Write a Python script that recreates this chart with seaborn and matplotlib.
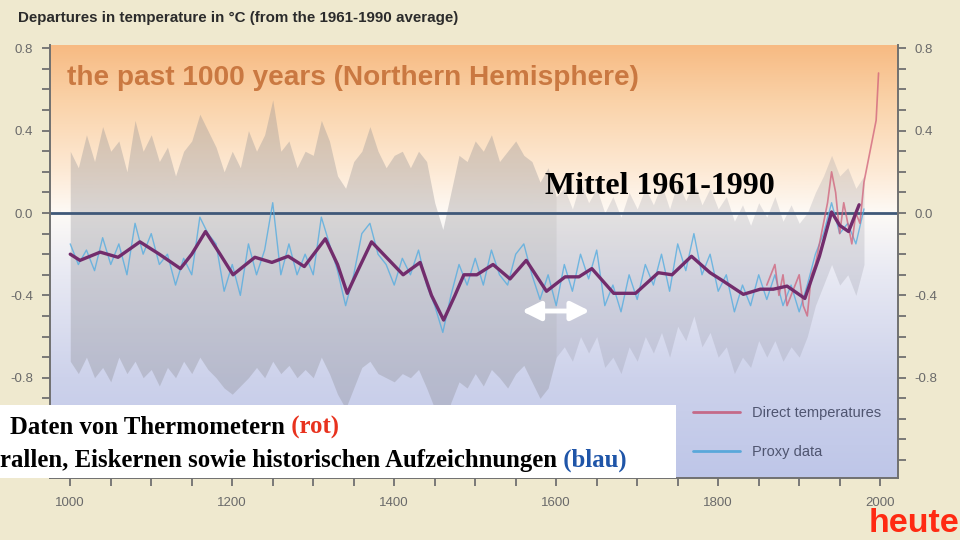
import numpy as np
import matplotlib
matplotlib.use("Agg")
import matplotlib.pyplot as plt
import seaborn as sns
from matplotlib.patches import Rectangle
from matplotlib.lines import Line2D
from matplotlib.ticker import MultipleLocator, FormatStrFormatter

# --- werte ---
# geglaettete kurve (lila)
smooth_years = [1000, 1012, 1037, 1059, 1086, 1110, 1136, 1150, 1167, 1185, 1201, 1228, 1249,
                1269, 1289, 1315, 1330, 1342, 1355, 1372, 1411, 1432, 1446, 1461, 1475, 1486,
                1502, 1522, 1543, 1563, 1588, 1611, 1628, 1644, 1671, 1698, 1726, 1743, 1767,
                1790, 1806, 1831, 1852, 1868, 1885, 1907, 1925, 1940, 1950, 1961, 1974]
smooth_vals = [-0.20, -0.23, -0.19, -0.215, -0.14, -0.20, -0.27, -0.20, -0.09, -0.20, -0.30,
               -0.215, -0.24, -0.21, -0.26, -0.125, -0.25, -0.39, -0.28, -0.14, -0.30, -0.24,
               -0.40, -0.52, -0.40, -0.30, -0.30, -0.25, -0.32, -0.23, -0.38, -0.31, -0.31,
               -0.27, -0.39, -0.39, -0.29, -0.30, -0.21, -0.29, -0.33, -0.395, -0.37, -0.37,
               -0.355, -0.415, -0.21, 0.005, -0.06, -0.09, 0.04]

# proxy-daten (blau), dekadenwerte
proxy_years = list(range(1000, 1990, 10))
proxy_vals = [-0.15, -0.25, -0.18, -0.28, -0.12, -0.25, -0.15, -0.30, -0.05, -0.20,
              -0.10, -0.25, -0.20, -0.35, -0.22, -0.30, -0.02, -0.10, -0.15, -0.38,
              -0.25, -0.40, -0.15, -0.30, -0.18, 0.05, -0.30, -0.15, -0.30, -0.20,
              -0.30, -0.02, -0.15, -0.28, -0.45, -0.30, -0.10, -0.05, -0.20, -0.25,
              -0.35, -0.22, -0.30, -0.18, -0.35, -0.45, -0.58, -0.40, -0.25, -0.35,
              -0.22, -0.35, -0.18, -0.30, -0.35, -0.20, -0.15, -0.30, -0.42, -0.30,
              -0.45, -0.25, -0.38, -0.20, -0.32, -0.18, -0.45, -0.35, -0.48, -0.30,
              -0.42, -0.25, -0.35, -0.20, -0.38, -0.15, -0.28, -0.10, -0.30, -0.20,
              -0.38, -0.30, -0.48, -0.35, -0.45, -0.30, -0.42, -0.30, -0.45, -0.35,
              -0.48, -0.35, -0.20, -0.10, 0.05, -0.10, -0.05, -0.15, 0.02]

# unsicherheitsband (grau)
band_hi = [0.30, 0.22, 0.38, 0.25, 0.42, 0.30, 0.35, 0.20, 0.45, 0.30,
           0.38, 0.25, 0.32, 0.18, 0.30, 0.35, 0.48, 0.40, 0.32, 0.20,
           0.30, 0.22, 0.40, 0.30, 0.38, 0.55, 0.30, 0.35, 0.22, 0.30,
           0.28, 0.45, 0.35, 0.18, 0.12, 0.25, 0.30, 0.42, 0.30, 0.22,
           0.28, 0.30, 0.22, 0.30, 0.25, 0.05, -0.08, 0.10, 0.28, 0.25,
           0.35, 0.30, 0.38, 0.25, 0.30, 0.35, 0.28, 0.25, 0.15, 0.22,
           0.08, 0.12, 0.02, 0.15, 0.05, 0.12, 0.00, 0.08, -0.02, 0.10,
           0.02, 0.12, 0.04, 0.14, 0.02, 0.15, 0.06, 0.15, 0.04, 0.12,
           0.02, 0.08, -0.04, 0.04, -0.06, 0.05, -0.02, 0.08, -0.04, 0.04,
           -0.05, 0.00, 0.10, 0.18, 0.28, 0.18, 0.22, 0.12, 0.18]
band_lo = [-0.72, -0.78, -0.70, -0.80, -0.75, -0.82, -0.70, -0.78, -0.72, -0.80,
           -0.76, -0.84, -0.75, -0.80, -0.72, -0.78, -0.70, -0.76, -0.80, -0.85,
           -0.88, -0.84, -0.80, -0.75, -0.80, -0.72, -0.78, -0.74, -0.80, -0.76,
           -0.80, -0.70, -0.78, -0.88, -0.95, -0.85, -0.75, -0.72, -0.78, -0.80,
           -0.82, -0.78, -0.80, -0.76, -0.85, -0.95, -1.05, -0.92, -0.82, -0.85,
           -0.78, -0.84, -0.76, -0.80, -0.85, -0.78, -0.74, -0.82, -0.90, -0.85,
           -0.70, -0.65, -0.72, -0.60, -0.68, -0.60, -0.75, -0.70, -0.78, -0.65,
           -0.72, -0.60, -0.68, -0.58, -0.70, -0.55, -0.62, -0.50, -0.65, -0.58,
           -0.70, -0.65, -0.78, -0.70, -0.75, -0.62, -0.70, -0.62, -0.72, -0.65,
           -0.70, -0.60, -0.45, -0.35, -0.25, -0.35, -0.30, -0.40, -0.25]

# direkte messungen (rot)
direct_years = [1860, 1865, 1870, 1875, 1880, 1885, 1890, 1895, 1900, 1905, 1910, 1915,
                1920, 1925, 1930, 1935, 1940, 1945, 1950, 1955, 1960, 1965, 1970, 1975,
                1980, 1985, 1990, 1995, 1998]
direct_vals = [-0.35, -0.30, -0.25, -0.40, -0.30, -0.45, -0.40, -0.35, -0.30, -0.45, -0.50,
               -0.30, -0.25, -0.15, -0.05, 0.05, 0.20, 0.10, -0.10, 0.05, -0.05, -0.15,
               0.00, -0.05, 0.15, 0.25, 0.35, 0.45, 0.68]

x_ticks = [1000, 1200, 1400, 1600, 1800, 2000]
y_ticks = [-0.8, -0.4, 0.0, 0.4, 0.8]

sns.set_theme(style="ticks")
plt.rcParams['font.family'] = ['Liberation Sans', 'DejaVu Sans']
plt.rcParams['axes.unicode_minus'] = False

bg = '#efe9cf'
fig = plt.figure(figsize=(9.6, 5.4), dpi=100, facecolor=bg)
ax = fig.add_axes([50 / 960, 62 / 540, 848 / 960, 433 / 540])
xlim = (975, 2022)
ylim = (-1.287, 0.816)
ax.set_xlim(*xlim)
ax.set_ylim(*ylim)

# hintergrund-verlauf orange -> weiss -> blau
stops_v = [-1.29, -0.8, -0.3, 0.0, 0.2, 0.55, 0.82]
stops_c = np.array([[190, 198, 232], [205, 210, 235], [232, 233, 243], [253, 250, 246],
                    [253, 234, 214], [250, 210, 168], [247, 186, 130]]) / 255
vv = np.linspace(ylim[1], ylim[0], 300)
grad = np.stack([np.interp(vv, stops_v, stops_c[:, k]) for k in range(3)], axis=-1)
ax.imshow(grad[:, None, :], extent=[xlim[0], xlim[1], ylim[0], ylim[1]],
          aspect='auto', zorder=0)

by = np.array(proxy_years)
hi = np.array(band_hi)
lo = np.array(band_lo)
early = by <= 1600
late = by >= 1600
ax.fill_between(by[early], lo[early], hi[early], color='#8a8a90', alpha=0.32, lw=0, zorder=1)
ax.fill_between(by[late], lo[late], hi[late], color='#8a8a98', alpha=0.22, lw=0, zorder=1)

# nulllinie (mittel 1961-1990)
ax.axhline(0, color='#3f5878', lw=2, zorder=2)

sns.lineplot(x=proxy_years, y=proxy_vals, ax=ax, color='#56ade0', lw=1.0, alpha=0.8,
             estimator=None, sort=False, zorder=3)
sns.lineplot(x=direct_years, y=direct_vals, ax=ax, color='#d0607a', lw=1.2, alpha=0.75,
             estimator=None, sort=False, zorder=3)
sns.lineplot(x=smooth_years, y=smooth_vals, ax=ax, color='#722c6c', lw=2.4,
             estimator=None, sort=False, zorder=4, solid_joinstyle='round')

# weisser doppelpfeil
ax.annotate('', xy=(1554, -0.476), xytext=(1645, -0.476),
            arrowprops=dict(arrowstyle='<|-|>', color='white', lw=3.5,
                            mutation_scale=28), zorder=5)

ax.text(996, 0.655, 'the past 1000 years (Northern Hemisphere)', color='#c6723a',
        fontsize=20.2, fontweight='bold', va='center', ha='left', zorder=5, alpha=0.92)

# achsen
ax.spines['top'].set_visible(False)
for s in ['left', 'right', 'bottom']:
    ax.spines[s].set_color('#707070')
    ax.spines[s].set_linewidth(1.4)
ax.set_xticks(x_ticks)
ax.xaxis.set_minor_locator(MultipleLocator(50))
ax.set_yticks(y_ticks)
ax.yaxis.set_minor_locator(MultipleLocator(0.1))
ax.yaxis.set_major_formatter(FormatStrFormatter('%.1f'))
ax.tick_params(which='both', direction='out', length=6, width=1.3, color='#707070',
               labelcolor='#6a6a6a', labelsize=9.5, left=True, right=True,
               labelleft=True, labelright=True, bottom=True)
ax.tick_params(axis='x', pad=8)
ax.tick_params(axis='y', pad=6)
ax.set_xlabel('')
ax.set_ylabel('')

# legende
handles = [Line2D([], [], color='#c46a88', lw=2),
           Line2D([], [], color='#5aa8da', lw=2)]
leg = ax.legend(handles, ['Direct temperatures', 'Proxy data'], loc='upper left',
                bbox_to_anchor=(0.743, 0.197), frameon=False, fontsize=10.5,
                labelcolor='#4f5570', handlelength=3.2, labelspacing=1.75)

fig.text(18 / 960, 1 - 18 / 540, 'Departures in temperature in °C (from the 1961-1990 average)',
         fontsize=10.9, fontweight='bold', color='#2b2b2b', va='center', ha='left')

serif = ['Liberation Serif', 'DejaVu Serif']
fig.text(545 / 960, 1 - 186 / 540, 'Mittel 1961-1990', family=serif, fontweight='bold',
         fontsize=23, color='black', va='center', ha='left', zorder=6)

# weisse textbox unten links
fig.add_artist(Rectangle((0, 62 / 540), 676 / 960, 73 / 540, transform=fig.transFigure,
                         facecolor='white', edgecolor='none', zorder=5))
fs_box = 17.8
t1 = fig.text(10 / 960, 1 - 427 / 540, 'Daten von Thermometern', family=serif,
              fontweight='bold', fontsize=fs_box, color='black', va='center', ha='left',
              zorder=6)
t2 = fig.text(0, 1 - 460 / 540, 'rallen, Eiskernen sowie historischen Aufzeichnungen',
              family=serif, fontweight='bold', fontsize=fs_box, color='black', va='center',
              ha='left', zorder=6)
fig.canvas.draw()
r = fig.canvas.get_renderer()
for t, extra, col in [(t1, ' (rot)', '#e8321e'), (t2, ' (blau)', '#1f55a8')]:
    bb = t.get_window_extent(r)
    x0, y0 = fig.transFigure.inverted().transform((bb.x1, 0))
    fig.text(x0, t.get_position()[1], extra, family=serif, fontweight='bold', fontsize=fs_box,
             color=col, va='center', ha='left', zorder=6)

fig.text(959 / 960, 1 - 524 / 540, 'heute', fontsize=24.5, fontweight='bold', color='#ff2a12',
         va='center', ha='right')

fig.savefig('out.png', dpi=100, facecolor=bg)
